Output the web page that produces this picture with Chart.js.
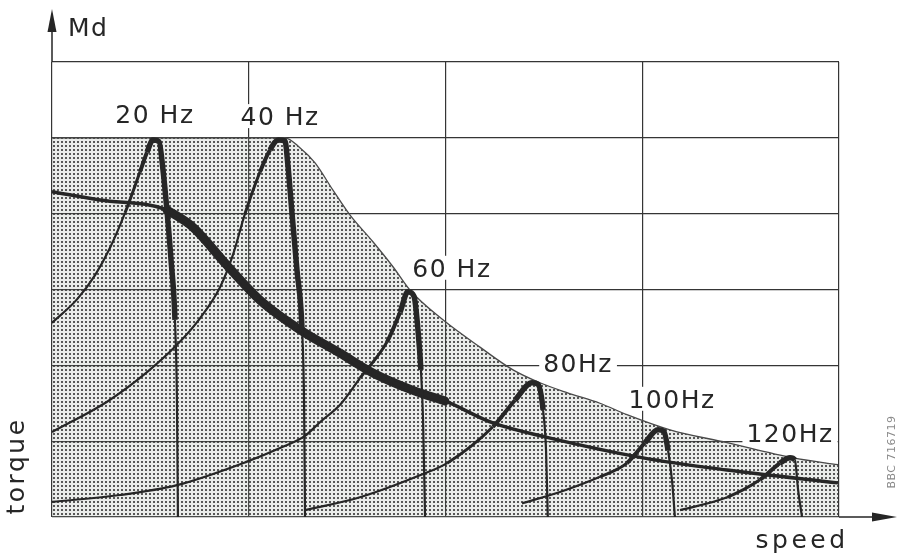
<!DOCTYPE html>
<html>
<head>
<meta charset="utf-8">
<script src="https://cdn.jsdelivr.net/npm/chart.js@4.4.0/dist/chart.umd.min.js"></script>
<style>
  html, body { margin: 0; padding: 0; background: #fff; }
  canvas { display: block; }
</style>
</head>
<body>
<canvas id="myChart" width="898" height="557"></canvas>
<script>
// speed in grid units (0..4), torque in grid units (0..6)
const freqLabels = ['20 Hz', '40 Hz', '60 Hz', '80Hz', '100Hz', '120Hz'];

const speed20  = [0, 0.127, 0.219, 0.295, 0.371, 0.447, 0.483, 0.513, 0.544, 0.564, 0.584, 0.605, 0.625, 0.635, 0.64];
const torque20 = [2.56, 2.87, 3.19, 3.55, 4.01, 4.55, 4.81, 4.97, 4.95, 4.58, 4.05, 3.39, 2.6, 1.54, 0];

const speed40  = [0, 0.28, 0.483, 0.635, 0.752, 0.854, 0.92, 0.981, 1.057, 1.108, 1.149, 1.184, 1.199, 1.22, 1.245, 1.271, 1.281, 1.286];
const torque40 = [1.12, 1.52, 1.91, 2.27, 2.62, 3.03, 3.46, 4.0, 4.55, 4.84, 4.97, 4.96, 4.64, 4.0, 3.26, 2.47, 1.54, 0];

const speed60  = [0, 0.346, 0.635, 0.991, 1.159, 1.286, 1.362, 1.464, 1.565, 1.703, 1.769, 1.809, 1.84, 1.86, 1.875, 1.886, 1.896];
const torque60 = [0.2, 0.29, 0.42, 0.73, 0.91, 1.07, 1.25, 1.48, 1.83, 2.31, 2.7, 2.97, 2.91, 2.47, 1.94, 1.28, 0];

const speed80  = [1.286, 1.565, 1.87, 2.008, 2.241, 2.353, 2.44, 2.47, 2.496, 2.511, 2.52];
const torque80 = [0.09, 0.26, 0.55, 0.71, 1.19, 1.54, 1.77, 1.75, 1.41, 0.88, 0];

const speed100  = [2.389, 2.582, 2.785, 2.922, 3.014, 3.08, 3.11, 3.131, 3.151, 3.166];
const torque100 = [0.18, 0.33, 0.53, 0.71, 0.98, 1.15, 1.13, 0.88, 0.49, 0];

const speed120  = [3.192, 3.431, 3.598, 3.70, 3.751, 3.776, 3.792, 3.812];
const torque120 = [0.09, 0.26, 0.49, 0.71, 0.78, 0.75, 0.36, 0];

// load torque curve (thick line)
const loadSpeed  = [0, 0.244, 0.584, 0.717, 0.889, 1.057, 1.26, 1.464, 1.631, 1.835, 1.997, 2.241, 2.516, 3.004, 3.431, 3.995];
const loadTorque = [4.29, 4.18, 4.05, 3.82, 3.32, 2.86, 2.47, 2.16, 1.9, 1.67, 1.53, 1.24, 1.05, 0.78, 0.62, 0.45];

// max torque envelope (shaded area underneath)
const limitSpeed  = [0, 1.184, 1.26, 1.337, 1.428, 1.515, 1.631, 1.733, 1.82, 1.987, 2.175, 2.343, 2.48, 2.617, 2.785, 2.922, 3.141, 3.431, 3.766, 3.995];
const limitTorque = [5.0, 5.0, 4.87, 4.67, 4.31, 3.98, 3.63, 3.3, 2.99, 2.6, 2.24, 1.94, 1.77, 1.64, 1.5, 1.35, 1.15, 0.98, 0.78, 0.69];

const curveSpeeds  = [speed20, speed40, speed60, speed80, speed100, speed120];
const curveTorques = [torque20, torque40, torque60, torque80, torque100, torque120];

// label offset from each curve's peak, px [dx, dy of baseline]
const labelOffsets = [[2, -17], [2, -15], [44, -15], [46, -11], [14, -22], [0, -16]];

const INK = '#262626';

function toPoints(xs, ys) {
    return xs.map((x, i) => ({ x: x, y: ys[i] }));
}

function peakIndex(ys) {
    return ys.indexOf(Math.max(...ys));
}

// thin rising flank, heavy around the peak and the falling flank
function curveSegment(ys) {
    const peak = peakIndex(ys);
    const n = ys.length;
    return {
        borderWidth: ctx => {
            const i = ctx.p0DataIndex;
            if (i >= peak - 1 && i < n - 3) return 5.5;
            if (i === peak - 2) return 4;
            if (i === peak - 3) return 3;
            return 2.2;
        }
    };
}

function dotPattern() {
    const c = document.createElement('canvas');
    c.width = 4;
    c.height = 4;
    const g = c.getContext('2d');
    g.fillStyle = 'rgba(150,160,150,0.2)';
    g.fillRect(0, 0, 4, 4);
    g.fillStyle = 'rgba(50,50,50,0.8)';
    g.fillRect(1, 1, 2, 2);
    return g.createPattern(c, 'repeat');
}

const datasets = [];

curveSpeeds.forEach((xs, k) => {
    datasets.push({
        label: freqLabels[k],
        data: toPoints(xs, curveTorques[k]),
        borderColor: INK,
        borderWidth: 2.2,
        cubicInterpolationMode: 'monotone',
        segment: curveSegment(curveTorques[k]),
        fill: false,
        order: 1
    });
});

const loadPoints = toPoints(loadSpeed, loadTorque);

datasets.push({
    label: 'load',
    data: loadPoints,
    borderColor: INK,
    borderWidth: 3.5,
    cubicInterpolationMode: 'monotone',
    fill: false,
    order: 2
});

// heavy middle part of the load curve
datasets.push({
    label: 'load heavy',
    data: loadPoints.slice(2, 11),
    borderColor: INK,
    borderWidth: 9,
    borderCapStyle: 'round',
    cubicInterpolationMode: 'monotone',
    fill: false,
    order: 2
});

datasets.push({
    label: 'limit',
    data: toPoints(limitSpeed, limitTorque),
    borderColor: '#4a4a4a',
    borderWidth: 1.3,
    cubicInterpolationMode: 'monotone',
    fill: 'origin',
    backgroundColor: dotPattern(),
    order: 3
});

const decor = {
    id: 'decor',
    afterDraw(chart) {
        const ctx = chart.ctx;
        const a = chart.chartArea;
        ctx.save();

        // axis arrows
        ctx.strokeStyle = INK;
        ctx.fillStyle = INK;
        ctx.lineWidth = 1.5;
        ctx.beginPath();
        ctx.moveTo(a.left, a.top);
        ctx.lineTo(a.left, 28);
        ctx.moveTo(a.right, a.bottom);
        ctx.lineTo(876, a.bottom);
        ctx.stroke();
        ctx.beginPath();
        ctx.moveTo(a.left, 9);
        ctx.lineTo(a.left - 4.5, 32);
        ctx.lineTo(a.left + 4.5, 32);
        ctx.closePath();
        ctx.fill();
        ctx.beginPath();
        ctx.moveTo(897, a.bottom);
        ctx.lineTo(872, a.bottom - 4.5);
        ctx.lineTo(872, a.bottom + 4.5);
        ctx.closePath();
        ctx.fill();

        // frequency labels next to the peaks
        ctx.font = '25px "DejaVu Sans"';
        ctx.letterSpacing = '1.5px';
        ctx.textAlign = 'center';
        ctx.textBaseline = 'alphabetic';
        curveTorques.forEach((ys, k) => {
            const pt = chart.getDatasetMeta(k).data[peakIndex(ys)];
            const cx = pt.x + labelOffsets[k][0];
            const by = pt.y + labelOffsets[k][1];
            const w = ctx.measureText(freqLabels[k]).width;
            ctx.fillStyle = '#fff';
            ctx.fillRect(cx - w / 2 - 4, by - 21, w + 8, 24);
            ctx.fillStyle = INK;
            ctx.fillText(freqLabels[k], cx, by);
        });

        // axis names
        ctx.textAlign = 'left';
        ctx.fillText('Md', 68, 36);
        ctx.letterSpacing = '3.5px';
        ctx.textAlign = 'center';
        ctx.fillText('speed', 802, 548);

        ctx.save();
        ctx.translate(24, 466);
        ctx.rotate(-Math.PI / 2);
        ctx.letterSpacing = '2.5px';
        ctx.fillText('torque', 0, 0);
        ctx.restore();

        ctx.save();
        ctx.translate(895, 452);
        ctx.rotate(-Math.PI / 2);
        ctx.font = '11px "DejaVu Sans"';
        ctx.letterSpacing = '0.5px';
        ctx.fillStyle = '#8a8a8a';
        ctx.fillText('BBC 716719', 0, 0);
        ctx.restore();

        ctx.restore();
    }
};

const gridOpts = {
    color: '#353535',
    lineWidth: 1.2,
    drawTicks: false
};

new Chart(document.getElementById('myChart').getContext('2d'), {
    type: 'line',
    data: { datasets: datasets },
    options: {
        responsive: false,
        animation: false,
        layout: { padding: { left: 52, right: 59, top: 62, bottom: 40 } },
        elements: { point: { radius: 0, hoverRadius: 0 } },
        plugins: { legend: { display: false }, tooltip: { enabled: false } },
        scales: {
            x: {
                type: 'linear',
                min: 0,
                max: 4,
                ticks: { display: false, stepSize: 1 },
                grid: gridOpts,
                border: { display: false }
            },
            y: {
                type: 'linear',
                min: 0,
                max: 6,
                ticks: { display: false, stepSize: 1 },
                grid: gridOpts,
                border: { display: false }
            }
        }
    },
    plugins: [decor]
});
</script>
</body>
</html>
